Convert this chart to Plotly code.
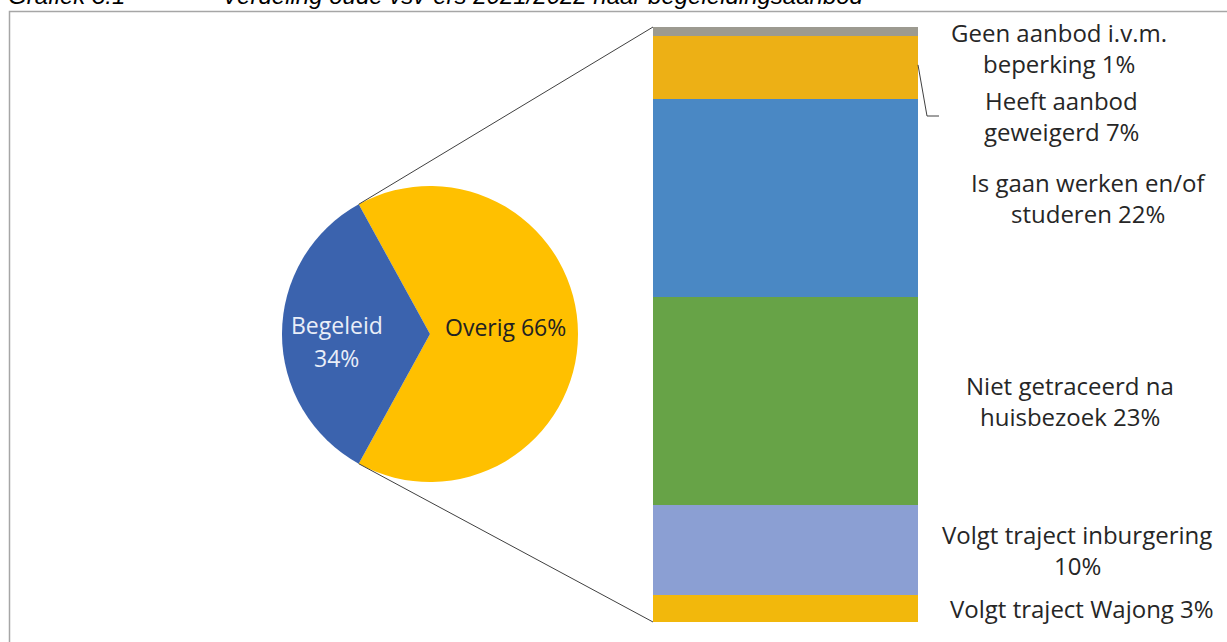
import math
import plotly.graph_objects as go

W, H = 1227, 642

# ---- data ----
pie_labels = ["Overig", "Begeleid"]
pie_values = [66, 34]
pie_text_lines = [["Overig 66%"], ["Begeleid", "34%"]]

bar_labels = [
    "Volgt traject Wajong 3%",
    "Volgt traject inburgering<br>10%",
    "Niet getraceerd na<br>huisbezoek 23%",
    "Is gaan werken en/of<br>studeren 22%",
    "Heeft aanbod<br>geweigerd 7%",
    "Geen aanbod i.v.m.<br>beperking 1%",
]
bar_values = [3, 10, 23, 22, 7, 1]
bar_colors = ["#F2B80C", "#8B9FD3", "#67A347", "#4A88C4", "#EDB015", "#9C9A90"]

title_left = "Grafiek 3.1"
title_right = "Verdeling oude vsv-ers 2021/2022 naar begeleidingsaanbod"

FONT = "Open Sans"
FS = 24

def px(x):
    return x / W

def py(y):
    return (H - y) / H

# ---- layout geometry ----
pie_cx, pie_cy, pie_r = 430, 334, 148
bar_x0, bar_x1 = 653, 918
bar_top, bar_bot = 27, 622

fig = go.Figure()

overig_frac = pie_values[0] / sum(pie_values)
rotation = 90 - overig_frac * 360 / 2

fig.add_trace(go.Pie(
    labels=pie_labels,
    values=pie_values,
    textinfo="none",
    sort=False,
    direction="clockwise",
    rotation=rotation,
    marker=dict(colors=["#FFC000", "#3B63AE"], line=dict(width=0)),
    hoverinfo="label+percent",
    domain=dict(x=[px(pie_cx - pie_r), px(pie_cx + pie_r)],
                y=[py(pie_cy + pie_r), py(pie_cy - pie_r)]),
    showlegend=False,
))

for lab, val, col in zip(bar_labels, bar_values, bar_colors):
    fig.add_trace(go.Bar(
        x=[0], y=[val], marker=dict(color=col, line=dict(width=0)),
        width=1, name=lab.replace("<br>", " "), showlegend=False,
        xaxis="x", yaxis="y",
    ))

total = sum(bar_values)

# connector lines from pie slice edges to bar corners
half = (1 - overig_frac) * 360 / 2
a_top = math.radians(180 - half)
a_bot = math.radians(180 + half)
p_top = (pie_cx + pie_r * math.cos(a_top), pie_cy - pie_r * math.sin(a_top))
p_bot = (pie_cx + pie_r * math.cos(a_bot), pie_cy - pie_r * math.sin(a_bot))

shapes = [
    dict(type="line", xref="paper", yref="paper",
         x0=px(p_top[0]), y0=py(p_top[1]), x1=px(bar_x0), y1=py(bar_top),
         line=dict(color="#404040", width=1)),
    dict(type="line", xref="paper", yref="paper",
         x0=px(p_bot[0]), y0=py(p_bot[1]), x1=px(bar_x0), y1=py(bar_bot),
         line=dict(color="#404040", width=1)),
    # chart frame
    dict(type="rect", xref="paper", yref="paper",
         x0=px(9.5), y0=py(700), x1=px(1300), y1=py(11.5),
         line=dict(color="#A6A6A6", width=1.5), layer="below"),
]

annotations = []

# pie labels: Overig on the right (angle 0), Begeleid on the left (angle 180)
pie_label_pos = [(0, 0.51, -7), (180, 0.63, 7)]
pie_label_col = ["#222222", "#E9EEF8"]
for lines, (ang, rf, dy), col in zip(pie_text_lines, pie_label_pos, pie_label_col):
    cx = pie_cx + pie_r * rf * math.cos(math.radians(ang))
    cy = pie_cy + dy
    n = len(lines)
    for j, ln in enumerate(lines):
        shift = ((n - 1) / 2 - j) * 33
        annotations.append(dict(text=ln, xref="paper", yref="paper",
                                x=px(cx), y=py(cy), yshift=shift, showarrow=False,
                                xanchor="center", yanchor="middle",
                                font=dict(family=FONT, size=23, color=col)))

# labels to the right of the bar (one annotation per text line)
label_x = [1082, 1077, 1070, 1088, 1061, 1059]
LINE = 31
cum = 0
mids = []
for val in bar_values:
    mids.append(cum + val / 2)
    cum += val
# the two small top segments have labels pushed apart like the reference
scale = (bar_bot - bar_top) / total
mids[5] = total - (48 - bar_top) / scale
mids[4] = total - (116 - bar_top) / scale

for i, lab in enumerate(bar_labels):
    lines = lab.split("<br>")
    n = len(lines)
    for j, ln in enumerate(lines):
        shift = ((n - 1) / 2 - j) * LINE
        annotations.append(dict(
            text=ln, xref="paper", yref="y", x=px(label_x[i]), y=mids[i],
            yshift=shift, showarrow=False, xanchor="center", yanchor="middle",
            font=dict(family=FONT, size=FS, color="#262626")))

# leader line for "Heeft aanbod geweigerd"
seg_mid = total - bar_values[5] - bar_values[4] / 2
shapes.append(dict(type="path", xref="paper", yref="y",
                   path="M {a},{b} L {c},{d} L {e},{d}".format(
                       a=px(bar_x1), b=seg_mid + 0.3,
                       c=px(927), d=mids[4],
                       e=px(939)),
                   line=dict(color="#404040", width=1)))

for txt, x0 in [(title_left, 6), (title_right, 220)]:
    annotations.append(dict(text=txt, xref="paper", yref="paper",
                            x=px(x0), y=py(11), xanchor="left", yanchor="bottom",
                            showarrow=False,
                            font=dict(family="Liberation Sans", size=24,
                                      color="#000000", style="italic")))

fig.update_layout(
    width=W, height=H,
    margin=dict(l=0, r=0, t=0, b=0),
    paper_bgcolor="white", plot_bgcolor="rgba(0,0,0,0)",
    barmode="stack",
    xaxis=dict(domain=[px(bar_x0), px(bar_x1)], range=[-0.5, 0.5],
               visible=False, fixedrange=True),
    yaxis=dict(domain=[py(bar_bot), py(bar_top)], range=[0, total],
               visible=False, fixedrange=True),
    shapes=shapes,
    annotations=annotations,
)

fig.write_html("out.html", config={"displayModeBar": False},
               post_script="document.body.style.margin='0';document.body.style.overflow='hidden';")
